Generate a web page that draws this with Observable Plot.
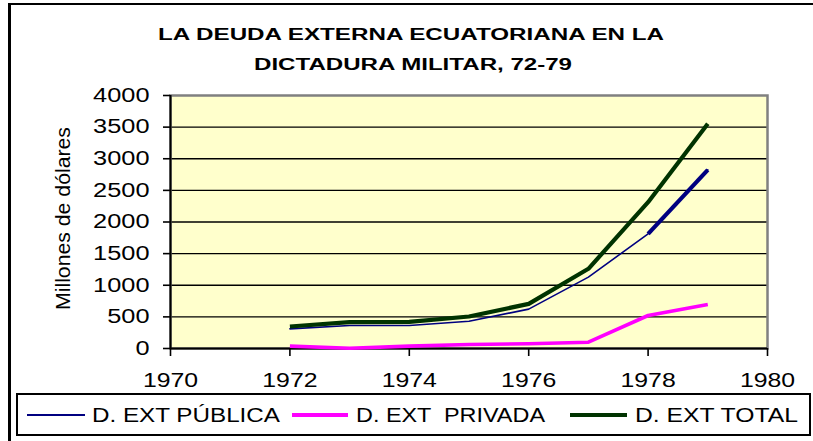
<!DOCTYPE html>
<html><head><meta charset="utf-8">
<script src="https://cdn.jsdelivr.net/npm/d3@7"></script>
<script src="https://cdn.jsdelivr.net/npm/@observablehq/plot@0.6"></script>
<style>
body{margin:0;background:#fff;}
#wrap{position:relative;width:813px;height:441px;overflow:hidden;background:#fff;font-family:"Liberation Sans",Arial,sans-serif;}
#border{position:absolute;left:8px;top:3px;width:900px;height:600px;border-left:3px solid #000;border-top:2.5px solid #000;}
#chart{position:absolute;left:0;top:80px;}
#over{position:absolute;left:0;top:0;}
</style></head><body>
<div id="wrap"><div id="border"></div><div id="chart"></div><svg id="over" width="813" height="441" xmlns="http://www.w3.org/2000/svg"></svg></div>
<script>
// ---- data ----
const years   = [1972, 1973, 1974, 1975, 1976, 1977, 1978, 1979];
const publica = [311, 364, 364, 432, 622, 1128, 1813, 2825];
const privada = [37, 5, 37, 63, 74, 100, 522, 696];
const total   = [348, 416, 420, 506, 706, 1260, 2313, 3552];
const yTicks = [0, 500, 1000, 1500, 2000, 2500, 3000, 3500, 4000];
const xTicks = [1970, 1972, 1974, 1976, 1978, 1980];
const seriesNames  = ["D. EXT PÚBLICA", "D. EXT  PRIVADA", "D. EXT TOTAL"];
const seriesColors = ["#000080", "#FF00FF", "#003300"];
const titleLines = ["LA DEUDA EXTERNA ECUATORIANA EN LA", "DICTADURA MILITAR, 72-79"];
const yLabel = "Millones de dólares";

const rows = vals => years.map((y, i) => ({year: y, value: vals[i]}));
const pub = rows(publica), priv = rows(privada), tot = rows(total);

const plot = Plot.plot({
  width: 813, height: 320,
  marginTop: 15, marginBottom: 52, marginLeft: 170, marginRight: 46,
  style: {fontFamily: "Liberation Sans, Arial, sans-serif", background: "transparent", color: "#000", overflow: "visible"},
  x: {domain: [1970, 1980]},
  y: {domain: [0, 4000]},
  marks: [
    Plot.frame({fill: "#FFFFCC"}),
    Plot.ruleY(yTicks.slice(1, -1), {stroke: "#000", strokeWidth: 1.4}),
    Plot.frame({stroke: "#808080", strokeWidth: 2.5}),
    Plot.ruleX([1970], {stroke: "#000", strokeWidth: 2}),
    Plot.ruleY([0], {stroke: "#000", strokeWidth: 2}),
    Plot.axisY({ticks: yTicks, tickSize: 7, tickPadding: 14, tickFormat: d => String(d), fontSize: 19.5, label: null, strokeWidth: 1.6}),
    Plot.axisX({ticks: xTicks, tickSize: 8, tickPadding: 16, tickFormat: d => String(d), fontSize: 20, label: null, strokeWidth: 1.6}),
    Plot.line(pub, {x: "year", y: "value", stroke: seriesColors[0], strokeWidth: 1.6}),
    Plot.line(pub.slice(6), {x: "year", y: "value", stroke: seriesColors[0], strokeWidth: 4.2, strokeLinecap: "butt"}),
    Plot.line(priv, {x: "year", y: "value", stroke: seriesColors[1], strokeWidth: 3.6, strokeLinecap: "butt"}),
    Plot.line(tot, {x: "year", y: "value", stroke: seriesColors[2], strokeWidth: 4.2, strokeLinecap: "butt"})
  ]
});
document.getElementById("chart").append(plot);

function stretch(sel, k) {
  plot.querySelectorAll(sel).forEach(t => {
    const w = t.getComputedTextLength();
    t.setAttribute("textLength", w * k);
    t.setAttribute("lengthAdjust", "spacingAndGlyphs");
  });
}
stretch('g[aria-label="y-axis tick label"] text', 1.3);
stretch('g[aria-label="x-axis tick label"] text', 1.24);

// ---- overlay: title, y label, legend ----
const NS = "http://www.w3.org/2000/svg";
const over = document.getElementById("over");
function el(tag, attrs, text) {
  const e = document.createElementNS(NS, tag);
  for (const k in attrs) e.setAttribute(k, attrs[k]);
  if (text != null) e.textContent = text;
  over.appendChild(e);
  return e;
}
const FF = "Liberation Sans, Arial, sans-serif";
el("text", {x: 411, y: 39.5, "text-anchor": "middle", "font-family": FF, "font-weight": "bold", "font-size": 16, textLength: 506, lengthAdjust: "spacingAndGlyphs"}, titleLines[0]);
el("text", {x: 413, y: 70, "text-anchor": "middle", "font-family": FF, "font-weight": "bold", "font-size": 16, textLength: 318, lengthAdjust: "spacingAndGlyphs"}, titleLines[1]);
el("text", {transform: "translate(70,218.5) rotate(-90)", "text-anchor": "middle", "font-family": FF, "font-size": 19.5, textLength: 183, lengthAdjust: "spacingAndGlyphs"}, yLabel);

el("rect", {x: 17, y: 394, width: 793, height: 41, fill: "none", stroke: "#000", "stroke-width": 2});
const leg = [
  {x1: 27, x2: 85, sw: 2, tx: 92, tw: 188},
  {x1: 292, x2: 348, sw: 4, tx: 356, tw: 189},
  {x1: 570, x2: 627, sw: 4, tx: 635, tw: 163}
];
leg.forEach((g, i) => {
  el("line", {x1: g.x1, x2: g.x2, y1: 415, y2: 415, stroke: seriesColors[i], "stroke-width": g.sw});
  el("text", {x: g.tx, y: 422, "font-family": FF, "font-size": 20, textLength: g.tw, lengthAdjust: "spacingAndGlyphs", "xml:space": "preserve", style: "white-space:pre"}, seriesNames[i]);
});
</script>
</body></html>
